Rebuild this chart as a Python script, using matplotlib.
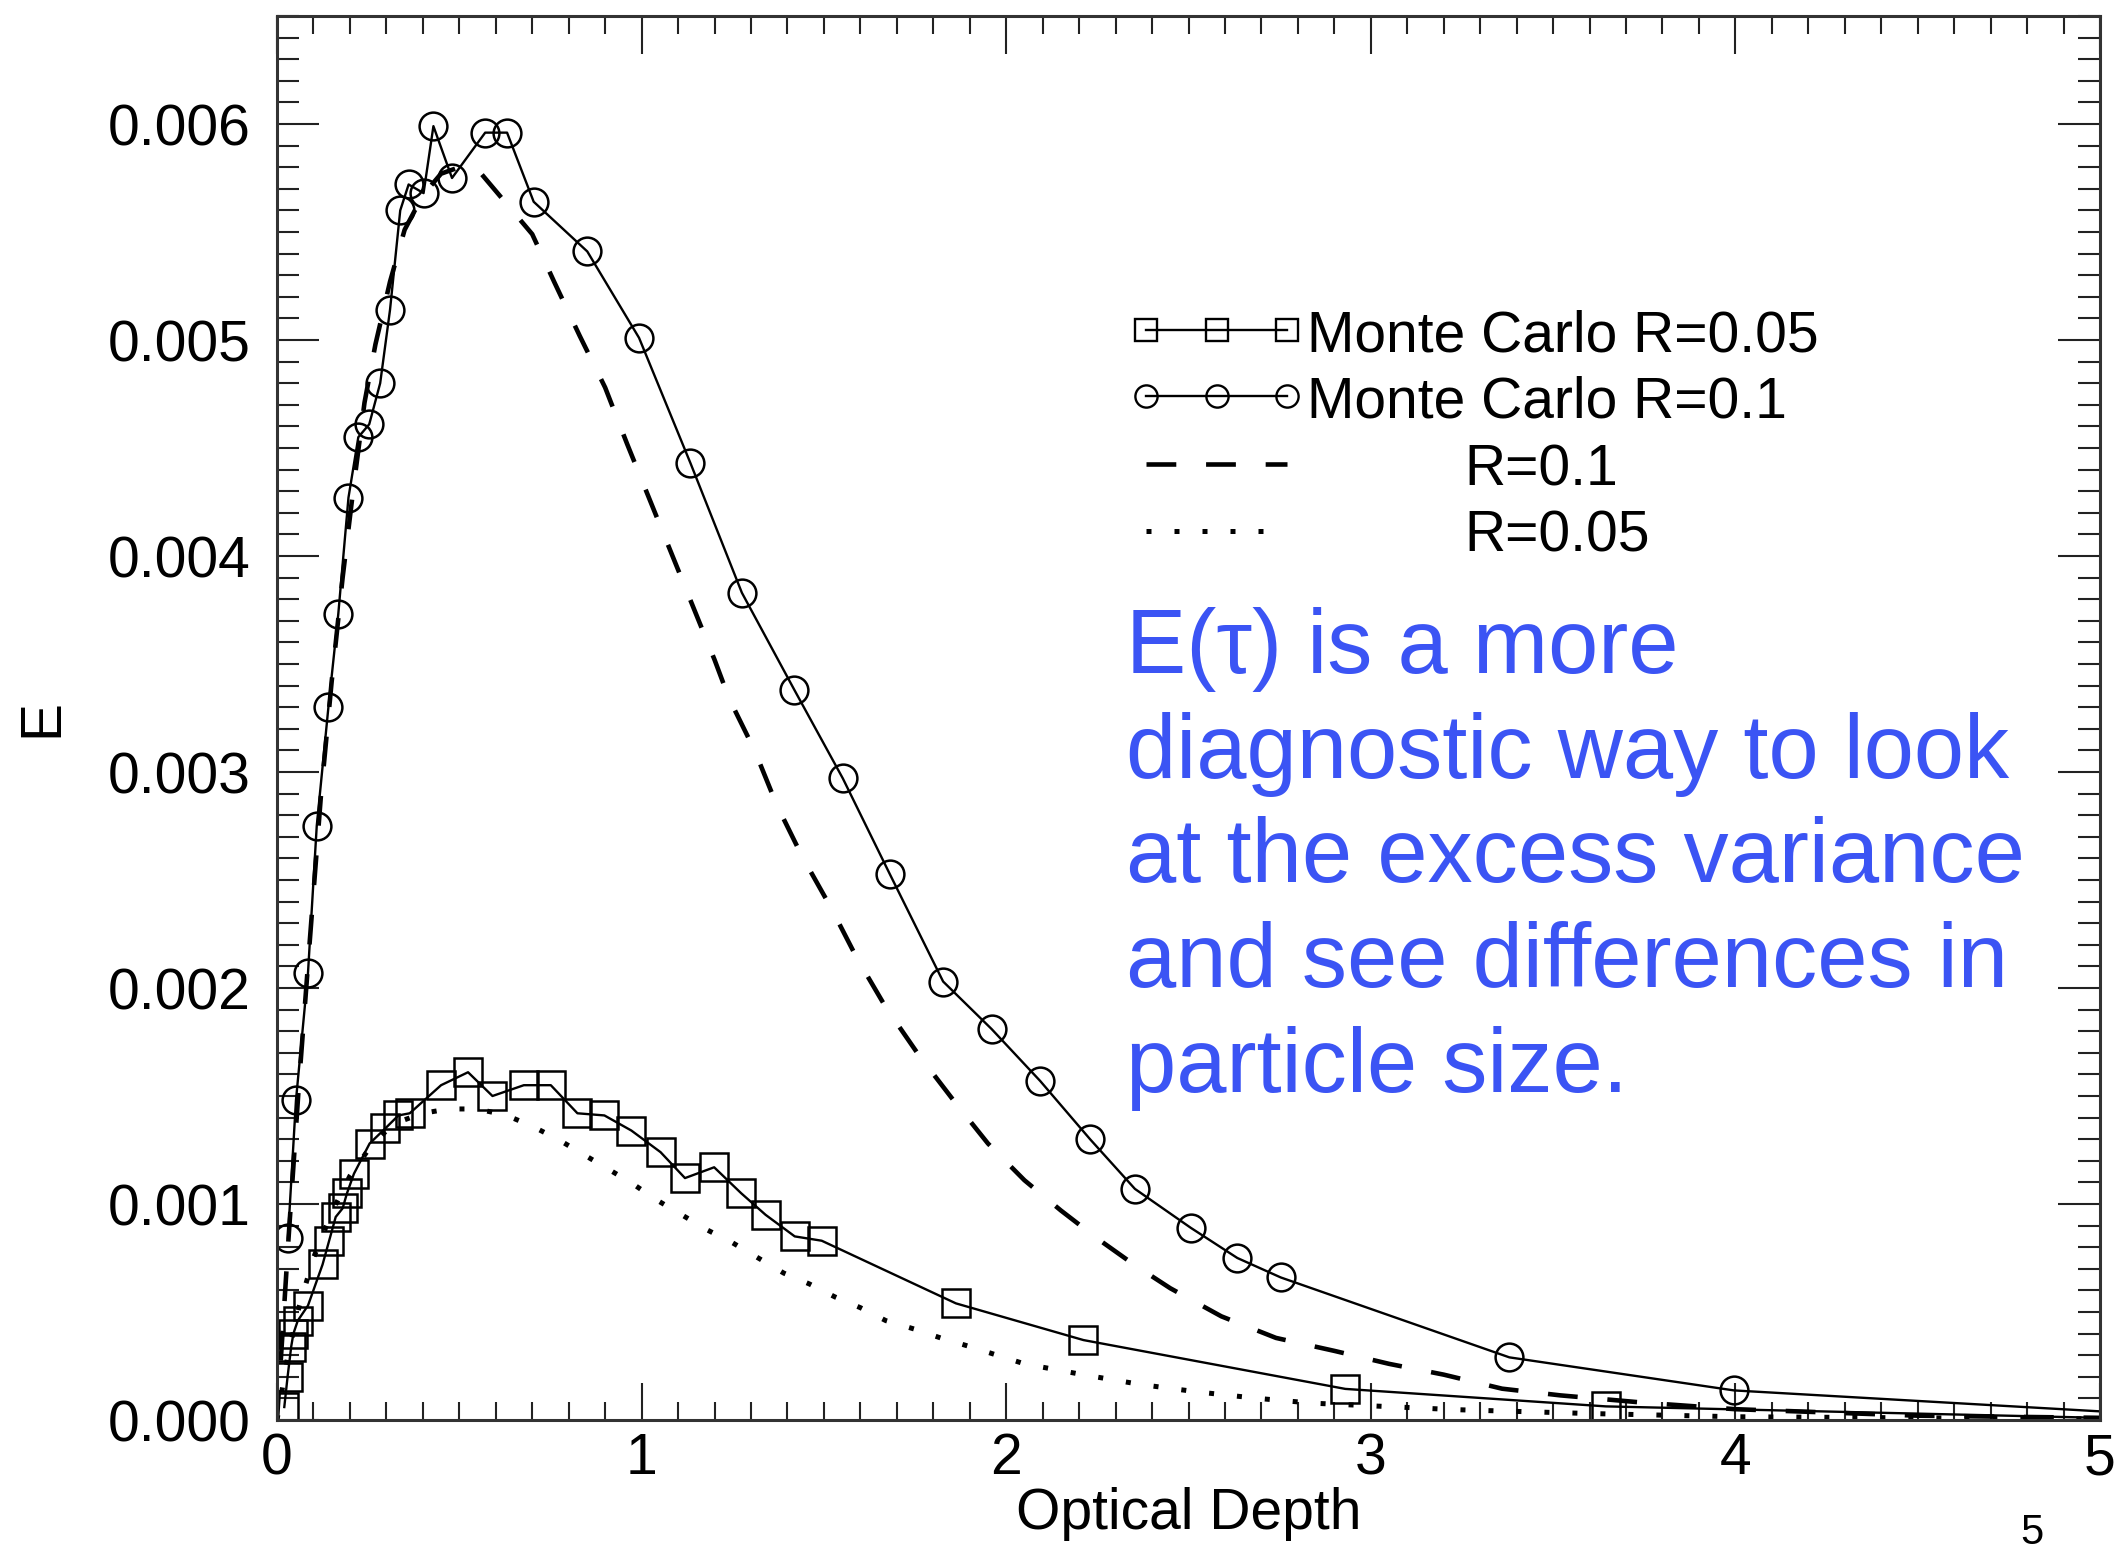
import matplotlib
matplotlib.use("Agg")
from matplotlib import pyplot as plt
from matplotlib.ticker import MultipleLocator, FormatStrFormatter
from matplotlib.lines import Line2D

plt.rcParams["font.family"] = ["Liberation Sans", "DejaVu Sans"]

# Monte Carlo R=0.1 (circles)
tau_mc10 = [0.030, 0.052, 0.085, 0.109, 0.141, 0.168, 0.196, 0.223, 0.253, 0.283,
            0.310, 0.338, 0.361, 0.402, 0.429, 0.480, 0.571, 0.631, 0.704, 0.851,
            0.993, 1.134, 1.275, 1.419, 1.552, 1.680, 1.827, 1.960, 2.093, 2.230,
            2.353, 2.506, 2.634, 2.753, 3.380, 3.996, 5.0]
e_mc10 = [0.000844, 0.00148, 0.00207, 0.00275, 0.00330, 0.00373, 0.00427, 0.00455, 0.00461, 0.00480,
          0.00514, 0.00560, 0.00572, 0.00568, 0.00599, 0.00575, 0.00596, 0.00596, 0.00564, 0.00541,
          0.00501, 0.00443, 0.00383, 0.00338, 0.00297, 0.00253, 0.00203, 0.00181, 0.00157, 0.00130,
          0.00107, 0.00089, 0.00075, 0.00066, 0.00029, 0.000137, 0.00004]

# Monte Carlo R=0.05 (squares)
tau_mc05 = [0.020, 0.029, 0.039, 0.045, 0.057, 0.085, 0.125, 0.143, 0.161, 0.180,
            0.192, 0.211, 0.254, 0.297, 0.333, 0.364, 0.450, 0.524, 0.591, 0.677,
            0.751, 0.824, 0.898, 0.972, 1.052, 1.119, 1.199, 1.273, 1.340, 1.420,
            1.494, 1.862, 2.212, 2.930, 3.645, 5.0]
e_mc05 = [0.00006, 0.00020, 0.00034, 0.00040, 0.00046, 0.00053, 0.00072, 0.00083, 0.00094, 0.00098,
          0.00105, 0.00114, 0.00128, 0.00135, 0.00141, 0.00142, 0.00155, 0.00161, 0.00150, 0.00155,
          0.00155, 0.00142, 0.00141, 0.00134, 0.00124, 0.00112, 0.00117, 0.00105, 0.00095, 0.00085,
          0.00083, 0.00054, 0.00037, 0.000144, 0.000063, 0.00001]

# theory R=0.1 (dashed)
tau_r10 = [0.0, 0.03, 0.06, 0.09, 0.12, 0.15, 0.18, 0.21, 0.24, 0.27,
           0.31, 0.35, 0.40, 0.45, 0.50, 0.55, 0.65, 0.70, 0.76, 0.83,
           0.90, 0.96, 1.02, 1.08, 1.14, 1.20, 1.24, 1.31, 1.37, 1.44,
           1.52, 1.59, 1.67, 1.76, 1.86, 1.95, 2.05, 2.15, 2.25, 2.35,
           2.45, 2.59, 2.74, 2.90, 3.05, 3.20, 3.36, 3.52, 3.75, 4.0, 4.5, 5.0]
e_r10 = [0.0, 0.00080, 0.00155, 0.00222, 0.00288, 0.00342, 0.00390, 0.00432, 0.00471, 0.00498,
         0.00527, 0.00551, 0.00567, 0.00577, 0.00580, 0.00579, 0.00559, 0.00549, 0.00527, 0.00502,
         0.00478, 0.00452, 0.00427, 0.00402, 0.00377, 0.00352, 0.00334, 0.00310, 0.00285, 0.00261,
         0.00237, 0.00214, 0.00191, 0.00169, 0.00147, 0.00128, 0.00111, 0.00097, 0.00084, 0.00072,
         0.00061, 0.00048, 0.00038, 0.00032, 0.00026, 0.00021, 0.000145, 0.000114, 0.00008, 0.00005, 0.00002, 0.00001]

# theory R=0.05 (dotted)
tau_r05 = [0.0, 0.03, 0.06, 0.10, 0.15, 0.20, 0.25, 0.30, 0.35, 0.40,
           0.47, 0.55, 0.63, 0.70, 0.77, 0.84, 0.91, 0.97, 1.04, 1.11,
           1.18, 1.25, 1.32, 1.39, 1.46, 1.53, 1.60, 1.67, 1.75, 1.82,
           1.90, 2.05, 2.21, 2.37, 2.53, 2.69, 2.84, 3.23, 3.6, 4.0, 5.0]
e_r05 = [0.0, 0.00030, 0.00052, 0.00075, 0.00096, 0.00113, 0.00125, 0.00134, 0.00139, 0.00142,
         0.00144, 0.00144, 0.00141, 0.00136, 0.00130, 0.00123, 0.00116, 0.00110, 0.00102, 0.00095,
         0.00088, 0.00082, 0.00075, 0.00068, 0.00063, 0.00057, 0.00052, 0.00046, 0.00042, 0.00038,
         0.00034, 0.00026, 0.00021, 0.000164, 0.000129, 0.00010, 0.000078, 0.000048, 0.00003, 0.000015, 0.000005]

fig = plt.figure(figsize=(21.2, 15.56), dpi=100)
ax = fig.add_axes([277 / 2120, 1 - 1420 / 1556, (2100 - 277) / 2120, (1420 - 16) / 1556])

ax.plot(tau_mc05, e_mc05, color="k", lw=1.7, marker="s", ms=20, mfc="none", mec="k", mew=1.8,
        markevery=slice(0, -1))
ax.plot(tau_mc10, e_mc10, color="k", lw=1.7, marker="o", ms=20, mfc="none", mec="k", mew=1.8,
        markevery=slice(0, -1))
ax.plot(tau_r10, e_r10, color="k", lw=3.3, dashes=(6.5, 6.5))
ax.plot(tau_r05, e_r05, color="k", lw=3.6, dashes=(1, 4.6))

ax.set_xlim(0, 5)
ax.set_ylim(0, 0.0065)
ax.set_xticks([0, 1, 2, 3, 4, 5])
ax.set_yticks([0, 0.001, 0.002, 0.003, 0.004, 0.005, 0.006])
ax.yaxis.set_major_formatter(FormatStrFormatter("%.3f"))
ax.xaxis.set_minor_locator(MultipleLocator(0.1))
ax.yaxis.set_minor_locator(MultipleLocator(0.0001))
ax.tick_params(which="both", direction="in", top=True, right=True, width=1.5, color="#222222")
ax.tick_params(axis="x", which="major", length=27, pad=9, labelsize=41)
ax.tick_params(axis="x", which="minor", length=13)
ax.tick_params(axis="y", which="major", length=30, pad=19, labelsize=41)
ax.tick_params(axis="y", which="minor", length=16)
for s in ax.spines.values():
    s.set_linewidth(2.2)
    s.set_color("#333333")

ax.set_xlabel("Optical Depth", fontsize=41)
ax.xaxis.set_label_coords(0.5, -0.048)
ax.set_ylabel("E", fontsize=41)
ax.yaxis.set_label_coords(-0.114, 0.5)

# legend drawn by hand (IDL style)
def fx(px):
    return px / 2120

def fy(py):
    return 1 - py / 1556

rows = [330, 396, 464, 531]
lx0, lx1 = 1146, 1287
for r, m in zip(rows[:2], ["s", "o"]):
    fig.add_artist(Line2D([fx(lx0), fx((lx0 + lx1) / 2), fx(lx1)], [fy(r)] * 3, color="k", lw=1.7,
                          marker=m, ms=16, mfc="none", mec="k", mew=1.7, transform=fig.transFigure))
fig.add_artist(Line2D([fx(lx0), fx(lx1)], [fy(rows[2])] * 2, color="k", lw=3.3, dashes=(6.5, 6.5),
                      transform=fig.transFigure))
fig.add_artist(Line2D([fx(lx0), fx(lx1 - 12)], [fy(rows[3])] * 2, color="k", lw=3.6, dashes=(1, 4.6),
                      transform=fig.transFigure))
labels = ["Monte Carlo R=0.05", "Monte Carlo R=0.1", "R=0.1", "R=0.05"]
label_x = [1307, 1307, 1464, 1464]
for r, lab, tx in zip(rows, labels, label_x):
    fig.text(fx(tx), fy(r), lab, fontsize=41, ha="left", va="center_baseline")

fig.text(fx(1126), fy(1092),
         "E(τ) is a more\ndiagnostic way to look\nat the excess variance\nand see differences in\nparticle size.",
         fontsize=65, color="#3b54f4", ha="left", va="baseline", linespacing=1.30)

fig.text(fx(2032), fy(1553), "5", fontsize=30, ha="center", va="bottom")

fig.savefig("out.png", dpi=100)
